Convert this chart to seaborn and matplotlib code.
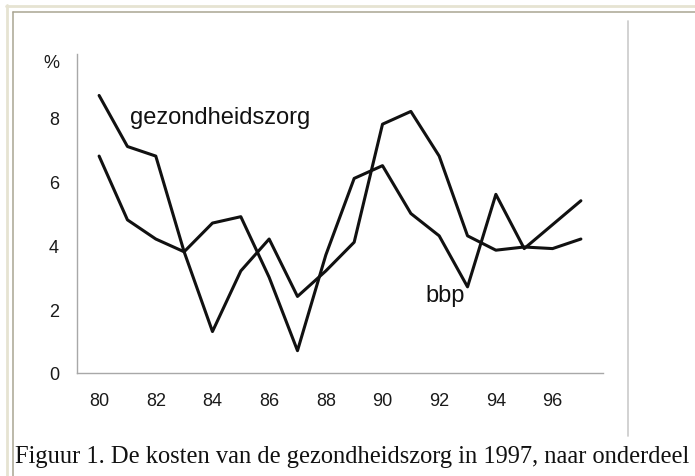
import numpy as np
import pandas as pd
import matplotlib
matplotlib.use("Agg")
import matplotlib.pyplot as plt
from matplotlib.lines import Line2D
import seaborn as sns

years = [80, 81, 82, 83, 84, 85, 86, 87, 88, 89, 90, 91, 92, 93, 94, 95, 96, 97]
gezondheidszorg = [8.7, 7.1, 6.8, 3.8, 1.3, 3.2, 4.2, 2.4, 3.2, 4.1, 7.8, 8.2, 6.8, 4.3, 3.85, 3.95, 3.9, 4.2]
bbp = [6.8, 4.8, 4.2, 3.8, 4.7, 4.9, 3.0, 0.7, 3.7, 6.1, 6.5, 5.0, 4.3, 2.7, 5.6, 3.9, 4.65, 5.4]
x_labels = ["80", "82", "84", "86", "88", "90", "92", "94", "96"]
y_ticks = [0, 2, 4, 6, 8, 10]
y_labels = ["0", "2", "4", "6", "8", "%"]
caption = "Figuur 1. De kosten van de gezondheidszorg in 1997, naar onderdeel"

sns.set_theme(style="white")
plt.rcParams["font.family"] = ["Liberation Sans", "DejaVu Sans"]

pos = np.arange(len(years))
df = pd.DataFrame({
    "pos": np.concatenate([pos, pos]),
    "waarde": gezondheidszorg + bbp,
    "reeks": ["gezondheidszorg"] * len(years) + ["bbp"] * len(years),
})

W, H = 695, 477
fig = plt.figure(figsize=(W / 100, H / 100), dpi=100)
fig.patch.set_facecolor("white")

# axes placement (pixels)
ax_left, ax_right, ax_top, ax_bottom = 77, 603, 55, 374
ax = fig.add_axes([ax_left / W, 1 - ax_bottom / H, (ax_right - ax_left) / W, (ax_bottom - ax_top) / H])

sns.lineplot(data=df, x="pos", y="waarde", hue="reeks", palette=["#111111", "#111111"],
             linewidth=2.2, legend=False, ax=ax, sort=False, estimator=None)

ax.set_xlim(-0.78, len(years) - 1 + 0.78)
ax.set_ylim(0, 10)
ax.set_xlabel("")
ax.set_ylabel("")

for s in ["top", "right"]:
    ax.spines[s].set_visible(False)
for s in ["left", "bottom"]:
    ax.spines[s].set_color("#a8a8a8")
    ax.spines[s].set_linewidth(1.0)

ax.set_yticks(y_ticks)
ax.set_yticklabels(y_labels)
ax.tick_params(axis="y", direction="in", length=4, width=1, color="#a8a8a8",
               labelsize=13, pad=13, labelcolor="#1a1a1a")

label_pos = [years.index(int(l)) for l in x_labels]
ax.set_xticks(label_pos)
ax.set_xticklabels(x_labels)
ax.set_xticks(np.arange(-0.5, len(years), 1.0), minor=True)
ax.tick_params(axis="x", which="major", length=0, labelsize=13, pad=14, labelcolor="#1a1a1a")
ax.tick_params(axis="x", which="minor", direction="in", length=4, width=1, color="#a8a8a8")
# "%" sits a little below the top tick
for lbl in ax.get_yticklabels():
    if lbl.get_text() == "%":
        lbl.set_va("top")

ax.text(1.09, 7.83, "gezondheidszorg", fontsize=17, va="baseline", ha="left", color="#111111")
ax.text(11.5, 2.27, "bbp", fontsize=17, va="baseline", ha="left", color="#111111")

# caption
fig.text(15 / W, 1 - 463 / H, caption, fontsize=17.65, family=["Liberation Serif", "DejaVu Serif"],
         va="baseline", ha="left", color="#111111")

# frame lines of the page
def hline(y, x0, x1, color, lw):
    fig.add_artist(Line2D([x0 / W, x1 / W], [1 - y / H, 1 - y / H], color=color, lw=lw,
                          transform=fig.transFigure))

def vline(x, y0, y1, color, lw):
    fig.add_artist(Line2D([x / W, x / W], [1 - y0 / H, 1 - y1 / H], color=color, lw=lw,
                          transform=fig.transFigure))

hline(7, 6, W, "#e6e3d2", 2.0)
vline(7, 6, H, "#e6e3d2", 2.0)
hline(13, 12.5, W, "#a9a592", 1.1)
vline(13, 12.5, H, "#a9a592", 1.1)
vline(628, 22, 437, "#cfcfcf", 1.3)

fig.savefig("out.png", dpi=100)
